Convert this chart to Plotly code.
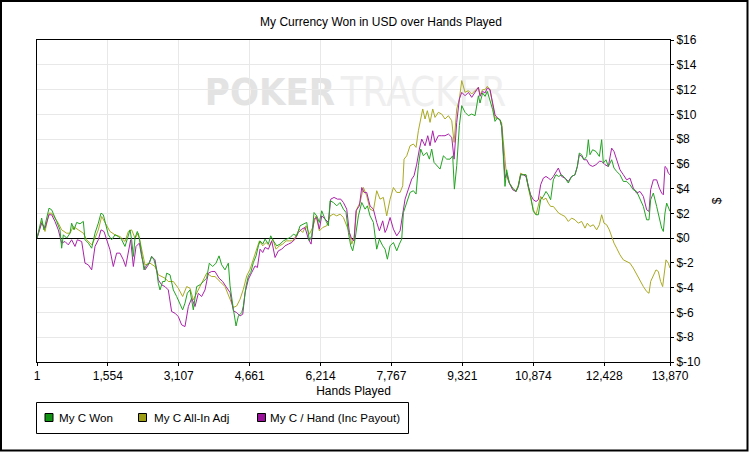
import plotly.graph_objects as go

# (hands played, dollars)
won_pts = [
    (1, 0.0), (103, 1.62), (154, 0.67), (213, 1.75), (264, 2.42), (322, 2.29), (373, 1.89), (432, 1.35),
    (505, 0.67), (541, -0.81), (578, 0.27), (651, 0.0), (724, 0.40), (760, 1.21), (812, 0.67), (870, 1.27),
    (943, 1.16), (1016, 1.35), (1053, -0.13), (1126, -0.40), (1199, -0.81), (1272, 0.40), (1345, 1.21),
    (1403, 2.02), (1454, 1.89), (1513, 1.08), (1564, 0.27), (1637, -0.13), (1710, 0.27), (1783, 0.13),
    (1856, -0.13), (1929, -0.67), (1980, -0.13), (2039, 0.67), (2075, -0.13), (2112, -1.48), (2148, 0.0),
    (2199, 0.54), (2243, 0.0), (2294, -1.21), (2345, -2.56), (2404, -2.15), (2462, -2.02), (2513, -1.48),
    (2564, -1.75), (2623, -2.56), (2659, -3.64), (2696, -4.18), (2754, -3.50), (2805, -3.50), (2842, -2.83),
    (2915, -2.96), (2951, -3.64), (2988, -4.18), (3061, -4.71), (3134, -5.25), (3192, -5.79), (3243, -5.25),
    (3295, -4.44), (3353, -4.18), (3426, -5.79), (3499, -3.91), (3572, -3.77), (3645, -3.50), (3718, -3.23),
    (3777, -2.02), (3850, -2.29), (3923, -2.02), (3989, -1.43), (4047, -2.15), (4120, -2.56), (4193, -2.02),
    (4231, -3.85), (4304, -5.74), (4362, -7.09), (4414, -6.28), (4487, -6.01), (4523, -5.47), (4582, -3.85),
    (4633, -3.04), (4684, -2.77), (4742, -1.97), (4801, -1.43), (4852, -0.62), (4888, -0.22), (4947, -0.48),
    (4998, -0.08), (5071, -0.48), (5122, 0.19), (5180, -0.22), (5253, -0.62), (5326, -0.48), (5399, -0.22),
    (5472, -0.08), (5546, 0.05), (5619, 0.32), (5692, 0.19), (5765, 1.0), (5838, 1.13), (5911, 1.27),
    (5969, -0.22), (6020, 0.19), (6071, 2.07), (6130, 1.80), (6188, 1.27), (6239, 2.21), (6312, 1.54),
    (6385, 1.0), (6422, 3.02), (6495, 2.88), (6568, 2.61), (6641, 2.88), (6714, 2.34), (6772, 2.07),
    (6824, 0.46), (6875, -0.62), (6918, -1.02), (6970, -0.08), (7043, 1.80), (7116, 2.88), (7189, 2.34),
    (7240, 2.61), (7298, 1.80), (7371, 1.27), (7444, -0.89), (7503, -0.08), (7576, -0.62), (7627, -0.89),
    (7678, -1.70), (7737, -0.62), (7810, -0.35), (7883, -1.02), (7941, -0.48), (7992, -0.08), (8029, 2.07),
    (8102, 2.88), (8175, 3.69), (8248, 3.83), (8306, 3.56), (8357, 5.85), (8408, 7.19), (8467, 6.65),
    (8540, 6.92), (8598, 6.38), (8649, 7.19), (8700, 6.12), (8759, 5.85), (8832, 5.58), (8905, 6.65),
    (8978, 6.38), (9051, 6.38), (9109, 6.65), (9146, 3.96), (9197, 5.85), (9255, 9.08), (9307, 10.70),
    (9380, 10.16), (9453, 9.89), (9526, 10.02), (9599, 9.89), (9672, 11.50), (9707, 10.91), (9765, 11.72),
    (9817, 11.45), (9868, 11.85), (9926, 11.18), (9985, 10.37), (10036, 9.43), (10087, 9.70), (10145, 9.56),
    (10182, 9.02), (10218, 6.60), (10255, 4.18), (10291, 5.52), (10350, 4.45), (10423, 4.04), (10496, 3.77),
    (10547, 4.18), (10598, 5.12), (10656, 5.12), (10715, 5.12), (10766, 4.18), (10817, 3.37), (10876, 2.16),
    (10934, 1.89), (10985, 1.89), (11036, 3.10), (11095, 3.37), (11153, 3.77), (11204, 3.50), (11255, 3.10),
    (11314, 4.71), (11372, 5.12), (11431, 4.98), (11496, 5.12), (11569, 4.85), (11642, 4.45), (11715, 4.98),
    (11788, 5.12), (11840, 5.79), (11883, 6.87), (11934, 6.74), (11986, 6.33), (12044, 6.60), (12081, 7.95),
    (12117, 6.74), (12175, 7.14), (12248, 7.00), (12322, 6.60), (12373, 7.95), (12409, 6.06), (12468, 6.33),
    (12519, 5.79), (12592, 6.33), (12643, 5.66), (12701, 5.39), (12774, 5.12), (12847, 4.58), (12920, 4.58),
    (12993, 4.31), (13066, 3.91), (13139, 3.77), (13213, 3.10), (13286, 2.56), (13359, 1.48), (13410, 1.48),
    (13446, 3.10), (13505, 3.64), (13578, 2.56), (13636, 1.75), (13687, 0.81), (13724, 0.54), (13760, 2.02),
    (13797, 2.83), (13840, 2.42), (13870, 2.16),
]

allin_pts = [
    (1, 0.0), (103, 1.35), (176, 0.54), (264, 2.02), (322, 2.02), (395, 1.62), (468, 1.21), (541, 0.67),
    (651, 0.40), (724, 0.40), (797, 0.94), (907, 0.67), (1016, 0.40), (1089, -0.13), (1199, -0.54), (1272, 0.0),
    (1345, 0.67), (1418, 1.75), (1513, 1.08), (1600, 0.54), (1710, 0.27), (1819, 0.13), (1929, -0.27),
    (2002, 0.54), (2075, 0.67), (2148, 0.0), (2221, 0.40), (2294, -0.94), (2367, -2.16), (2477, -2.02),
    (2586, -2.29), (2659, -2.96), (2732, -3.10), (2805, -3.23), (2878, -3.50), (2988, -3.50), (3097, -4.04),
    (3192, -4.71), (3280, -3.91), (3353, -4.04), (3426, -4.98), (3499, -4.45), (3609, -3.64), (3718, -2.83),
    (3828, -3.10), (3901, -3.10), (4010, -3.50), (4120, -3.91), (4231, -4.93), (4304, -5.60), (4377, -5.47),
    (4450, -4.93), (4523, -4.12), (4596, -3.04), (4669, -2.51), (4742, -1.70), (4815, -1.02), (4874, -0.22),
    (4947, -0.62), (5020, -0.35), (5093, -0.62), (5166, -0.08), (5239, -0.89), (5312, -0.62), (5385, -0.48),
    (5458, -0.22), (5531, -0.22), (5604, -0.22), (5677, 0.19), (5750, 0.73), (5823, 0.46), (5896, 1.0),
    (5969, 0.32), (6042, 0.86), (6115, 1.80), (6188, 0.59), (6261, 0.86), (6349, 1.0), (6422, 1.80),
    (6495, 1.94), (6568, 1.80), (6641, 1.94), (6714, 1.67), (6787, 1.0), (6845, 0.46), (6897, -0.48),
    (6948, 0.05), (7006, 2.34), (7079, 2.88), (7152, 4.09), (7225, 3.42), (7298, 2.34), (7371, 2.21),
    (7444, 3.83), (7517, 3.15), (7590, 3.29), (7663, 1.80), (7737, 3.15), (7810, 4.09), (7883, 3.69),
    (7956, 3.69), (8014, 4.23), (8043, 6.38), (8102, 6.65), (8175, 7.46), (8248, 7.60), (8306, 7.33),
    (8357, 8.67), (8408, 9.62), (8452, 10.43), (8503, 9.62), (8554, 10.29), (8613, 9.35), (8671, 10.43),
    (8722, 9.75), (8795, 10.16), (8868, 10.02), (8941, 9.62), (9014, 9.89), (9088, 9.48), (9139, 7.73),
    (9197, 10.43), (9255, 11.23), (9307, 12.72), (9380, 11.77), (9453, 11.91), (9526, 11.64), (9599, 11.91),
    (9672, 12.18), (9707, 11.58), (9765, 11.99), (9817, 11.99), (9868, 12.26), (9926, 11.99), (9985, 10.91),
    (10036, 9.70), (10087, 9.70), (10145, 9.56), (10182, 9.29), (10218, 7.41), (10255, 6.33), (10291, 4.98),
    (10350, 4.45), (10423, 4.04), (10496, 3.77), (10547, 4.31), (10598, 5.25), (10656, 5.12), (10715, 5.12),
    (10766, 4.04), (10817, 3.10), (10876, 2.29), (10934, 1.89), (10985, 2.56), (11036, 3.37), (11095, 3.10),
    (11153, 3.23), (11204, 2.83), (11255, 2.56), (11314, 2.56), (11372, 2.29), (11431, 2.02), (11496, 1.89),
    (11569, 1.75), (11642, 1.35), (11715, 1.62), (11788, 1.48), (11861, 1.21), (11934, 1.35), (12008, 0.81),
    (12059, 1.21), (12117, 0.94), (12190, 1.08), (12263, 0.67), (12322, 1.08), (12373, 1.89), (12424, 1.21),
    (12482, 1.08), (12541, 0.67), (12592, 0.13), (12643, -0.40), (12701, -0.81), (12774, -1.35),
    (12847, -1.75), (12920, -1.89), (12993, -2.02), (13066, -2.42), (13139, -2.96), (13213, -3.50),
    (13286, -3.91), (13359, -4.31), (13410, -4.45), (13446, -3.50), (13505, -2.96), (13563, -2.56),
    (13614, -2.69), (13665, -3.50), (13709, -3.91), (13745, -2.56), (13782, -1.75), (13833, -2.02),
    (13870, -2.42),
]

per_hand_pts = [
    (1, 0.0), (103, 1.21), (176, 0.81), (264, 1.89), (322, 1.89), (395, 1.35), (468, 0.67), (541, -0.40),
    (614, -0.27), (687, -0.54), (760, -0.13), (834, -0.67), (885, -0.13), (980, -0.27), (1053, -2.02),
    (1126, -2.16), (1199, -2.56), (1272, -0.67), (1345, -0.13), (1403, 0.67), (1469, 0.54), (1527, -0.13),
    (1600, -0.94), (1673, -2.29), (1746, -1.21), (1819, -1.21), (1893, -1.75), (1944, -2.29), (2002, -0.94),
    (2053, -0.13), (2112, -2.29), (2170, -0.67), (2243, -0.40), (2294, -1.48), (2367, -2.56), (2440, -2.16),
    (2513, -1.48), (2586, -1.75), (2659, -3.37), (2732, -3.77), (2805, -3.91), (2878, -4.18), (2951, -5.93),
    (3024, -6.06), (3097, -6.33), (3170, -7.00), (3243, -7.14), (3317, -5.52), (3390, -4.85), (3463, -5.52),
    (3536, -4.45), (3609, -4.71), (3682, -4.18), (3755, -2.83), (3828, -2.69), (3901, -2.69), (3989, -3.23),
    (4069, -3.50), (4142, -3.91), (4231, -4.39), (4304, -5.87), (4377, -6.01), (4450, -6.28), (4509, -6.14),
    (4560, -4.39), (4633, -3.31), (4706, -2.77), (4779, -2.24), (4830, -2.37), (4888, -0.89), (4947, -1.16),
    (4998, -0.75), (5071, -0.89), (5144, -0.22), (5217, -1.56), (5290, -1.02), (5363, -0.89), (5436, -0.62),
    (5509, -0.48), (5582, -0.35), (5655, -0.08), (5728, 0.46), (5801, 0.73), (5874, 0.86), (5947, -0.08),
    (6006, -0.48), (6071, 1.54), (6130, 1.67), (6188, 0.73), (6239, 1.80), (6312, 1.54), (6385, 1.27),
    (6437, 3.15), (6510, 3.29), (6583, 3.15), (6656, 3.15), (6714, 2.88), (6787, 2.34), (6845, 0.46),
    (6897, -0.08), (6948, -0.22), (6991, 2.21), (7065, 2.61), (7116, 4.09), (7167, 3.69), (7225, 3.69),
    (7298, 2.61), (7371, 2.34), (7444, 1.27), (7503, 0.59), (7576, 1.40), (7627, 0.46), (7663, 0.73),
    (7737, 1.67), (7810, 0.73), (7883, 0.19), (7956, 0.59), (8014, 1.80), (8065, 3.15), (8138, 3.96),
    (8211, 4.77), (8262, 5.04), (8321, 5.98), (8379, 7.19), (8430, 8.00), (8503, 7.46), (8562, 8.27),
    (8613, 7.46), (8671, 8.67), (8722, 7.73), (8795, 8.27), (8868, 8.27), (8941, 8.27), (9014, 8.41),
    (9088, 8.14), (9139, 6.38), (9197, 9.35), (9255, 11.23), (9307, 11.77), (9380, 11.50), (9453, 11.77),
    (9526, 11.37), (9599, 11.77), (9672, 12.18), (9707, 11.45), (9765, 11.85), (9817, 11.72), (9868, 12.12),
    (9926, 11.99), (9985, 10.91), (10036, 9.97), (10087, 9.70), (10145, 9.56), (10182, 9.02), (10218, 6.87),
    (10255, 4.85), (10291, 5.25), (10350, 4.45), (10423, 3.91), (10496, 3.77), (10547, 4.18), (10598, 5.12),
    (10656, 5.12), (10715, 4.98), (10766, 4.18), (10817, 3.50), (10876, 3.10), (10934, 2.96), (10985, 3.10),
    (11036, 4.31), (11095, 4.85), (11153, 4.98), (11204, 4.85), (11255, 4.71), (11314, 4.98), (11372, 5.39),
    (11423, 5.66), (11496, 4.98), (11569, 4.85), (11642, 4.58), (11715, 4.98), (11788, 5.12), (11840, 5.79),
    (11883, 6.74), (11934, 6.60), (11986, 6.33), (12044, 6.33), (12102, 5.93), (12175, 5.79), (12248, 5.93),
    (12322, 6.20), (12373, 6.20), (12446, 5.93), (12519, 5.79), (12592, 7.27), (12643, 7.00), (12701, 6.33),
    (12774, 5.52), (12847, 5.12), (12920, 4.71), (12993, 4.85), (13066, 4.04), (13139, 3.64), (13213, 3.77),
    (13286, 3.37), (13359, 2.29), (13410, 2.16), (13446, 3.91), (13505, 4.71), (13578, 4.71), (13636, 4.04),
    (13687, 3.64), (13724, 3.50), (13760, 5.79), (13797, 5.66), (13833, 5.25), (13870, 5.12),
]

series_names = ["My C Won", "My C All-In Adj", "My C / Hand (Inc Payout)"]
line_colors = ["#22a322", "#aaaa22", "#aa22aa"]
swatch_colors = ["#129212", "#9e9e16", "#9a129a"]

x_ticks = [1, 1554, 3107, 4661, 6214, 7767, 9321, 10874, 12428, 13870]
x_labels = ["1", "1,554", "3,107", "4,661", "6,214", "7,767", "9,321", "10,874", "12,428", "13,870"]
y_ticks = list(range(-10, 17, 2))
y_labels = ["$%d" % v for v in y_ticks]

W, H = 749, 452
L, R, T, B = 37, 79, 40, 90
PW, PH = W - L - R, H - T - B


def px(x):
    return (x - L) / PW


def py(y):
    return (H - B - y) / PH


FONT = "Liberation Sans, Arial, sans-serif"

fig = go.Figure()

# draw olive, purple, then green on top
for pts, name, color in [
    (allin_pts, series_names[1], line_colors[1]),
    (per_hand_pts, series_names[2], line_colors[2]),
    (won_pts, series_names[0], line_colors[0]),
]:
    fig.add_trace(go.Scatter(
        x=[p[0] for p in pts],
        y=[p[1] for p in pts],
        mode="lines",
        name=name,
        line=dict(color=color, width=1),
        showlegend=False,
    ))

shapes = []
annotations = []

# watermark
for text, x0, x1, color, weight, size in [("POKER", 203, 337, "#e3e3e3", "bold", 38),
                                           ("TRACKER", 337, 510, "#efefef", "normal", 40)]:
    shapes.append(dict(
        type="rect", xref="paper", yref="paper",
        x0=px(x0), x1=px(x1), y0=py(108), y1=py(70),
        line=dict(width=0), fillcolor="rgba(0,0,0,0)", layer="between",
        label=dict(text=text, textposition="middle center",
                   font=dict(family="Liberation Sans Narrow, DejaVu Sans Condensed, sans-serif",
                             size=size, color=color, weight=weight)),
    ))

# legend box
shapes.append(dict(type="rect", xref="paper", yref="paper",
                   x0=px(36.5), x1=px(408.5), y0=py(433.5), y1=py(402.5),
                   line=dict(color="black", width=1), fillcolor="white"))
for sx, tx, name, color in zip([45, 138.5, 257.5], [57, 152, 268], series_names, swatch_colors):
    shapes.append(dict(type="rect", xref="paper", yref="paper",
                       x0=px(sx), x1=px(sx + 8), y0=py(421.5), y1=py(413.5),
                       line=dict(color="black", width=1), fillcolor=color))
    annotations.append(dict(text=name, xref="paper", yref="paper", x=px(tx), y=py(417.5),
                            xanchor="left", yanchor="middle", showarrow=False,
                            font=dict(family=FONT, size=11.6, color="black")))

# outer frame
shapes.append(dict(type="rect", xref="paper", yref="paper",
                   x0=px(1), x1=px(747.5), y0=py(450.5), y1=py(1),
                   line=dict(color="black", width=2), fillcolor="rgba(0,0,0,0)"))

fig.update_layout(
    width=W, height=H,
    margin=dict(l=L, r=R, t=T, b=B, pad=0),
    paper_bgcolor="white",
    plot_bgcolor="white",
    font=dict(family=FONT, size=12, color="black"),
    showlegend=False,
    title=dict(text="My Currency Won in USD over Hands Played", x=381 / W, xanchor="center",
               y=1 - 22 / H, yanchor="middle", font=dict(size=12, color="black")),
    xaxis=dict(
        range=[1, 13870],
        tickvals=x_ticks, ticktext=x_labels,
        showgrid=True, gridcolor="#e8e8e8", gridwidth=1,
        zeroline=False,
        showline=True, linecolor="black", linewidth=1, mirror=True,
        ticks="outside", ticklen=3, tickcolor="black",
        tickfont=dict(size=12),
        title=dict(text="Hands Played", standoff=4, font=dict(size=12)),
    ),
    yaxis=dict(
        range=[-10, 16], side="right",
        tickvals=y_ticks, ticktext=y_labels,
        showgrid=True, gridcolor="#e8e8e8", gridwidth=1,
        zeroline=True, zerolinecolor="black", zerolinewidth=1,
        showline=True, linecolor="black", linewidth=1, mirror=True,
        ticks="outside", ticklen=3, tickcolor="black",
        tickfont=dict(size=12),
        title=dict(text="$", standoff=12, font=dict(size=12)),
    ),
    shapes=shapes,
    annotations=annotations,
)

# the page's default body margin would shift the chart by 8px
fig.write_html("out.html", config={"displayModeBar": False},
               post_script="document.body.style.margin = '0';")
